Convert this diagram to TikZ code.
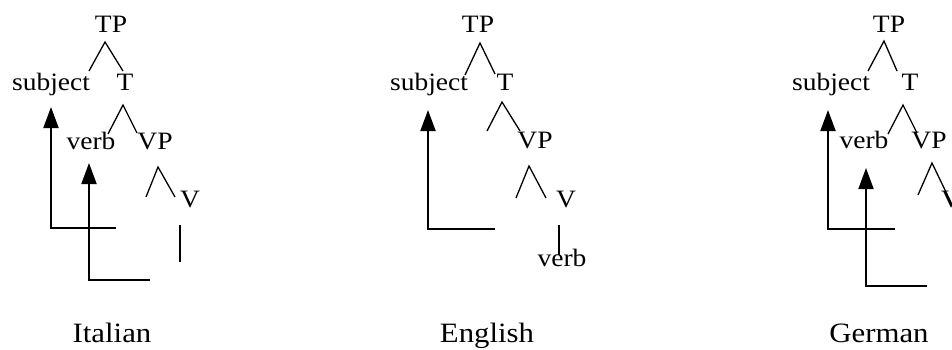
\documentclass[tikz,border=0pt]{standalone}
\usepackage{fontspec}
\setmainfont{Liberation Serif}
\newfontfamily\treefont[FakeStretch=1.1]{Liberation Serif}
\usetikzlibrary{arrows.meta}
\tikzset{
  cat/.style={inner sep=0pt, anchor=base, font=\treefont\fontsize{25}{25}\selectfont},
  lang/.style={inner sep=0pt, anchor=base, font=\treefont\fontsize{28}{28}\selectfont},
  branch/.style={line width=1.3pt},
  mv/.style={line width=2pt, -{Triangle[length=21pt,width=15pt]}},
  base/.style={line width=2pt},
}
\begin{document}
\begin{tikzpicture}[x=1pt,y=-1pt]
\useasboundingbox (0,0) rectangle (952,349);
\clip (0,0) rectangle (952,349);

% ---------------- Italian ----------------
\node[cat] (i-tp)   at (111,32)  {TP};
\node[cat] (i-subj) at (51,90)   {subject};
\node[cat] (i-t)    at (125,90)  {T};
\node[cat] (i-verb) at (91,149)  {verb};
\node[cat] (i-vp)   at (155,149) {VP};
\node[cat] (i-v)    at (190,207) {V};
\node[lang] (i-lab) at (112,342) {Italian};

\coordinate (i-tp-a) at (105,42);  \coordinate (i-tp-l) at (89,71);   \coordinate (i-tp-r) at (123,71);
\coordinate (i-t-a)  at (123,105); \coordinate (i-t-l)  at (108,134); \coordinate (i-t-r)  at (137,133);
\coordinate (i-vp-a) at (158,167); \coordinate (i-vp-l) at (146,197); \coordinate (i-vp-r) at (175,197);
\coordinate (i-s-t)  at (180,225); \coordinate (i-s-b)  at (180,262);
\draw[branch] (i-tp-l) -- (i-tp-a) -- (i-tp-r);
\draw[branch] (i-t-l) -- (i-t-a) -- (i-t-r);
\draw[branch] (i-vp-l) -- (i-vp-a) -- (i-vp-r);
\draw[branch] (i-s-t) -- (i-s-b);

\coordinate (i-a1) at (116,228);
\coordinate (i-a2) at (150,280);
\draw[mv] (i-a1) -| ([yshift=-17pt]i-subj.base);
\draw[mv] (i-a2) -| ([xshift=-2pt,yshift=-14pt]i-verb.base);

% ---------------- English ----------------
\node[cat] (e-tp)   at (478,32)  {TP};
\node[cat] (e-subj) at (429,90)  {subject};
\node[cat] (e-t)    at (505,90)  {T};
\node[cat] (e-vp)   at (535,148) {VP};
\node[cat] (e-v)    at (566,207) {V};
\node[cat] (e-verb) at (562,266) {verb};
\node[lang] (e-lab) at (487,342) {English};

\coordinate (e-tp-a) at (480,43);  \coordinate (e-tp-l) at (465,75);  \coordinate (e-tp-r) at (495,74);
\coordinate (e-t-a)  at (502,102); \coordinate (e-t-l)  at (487,131); \coordinate (e-t-r)  at (520,131);
\coordinate (e-vp-a) at (529,166); \coordinate (e-vp-l) at (516,198); \coordinate (e-vp-r) at (546,198);
\coordinate (e-s-t)  at (559,225); \coordinate (e-s-b)  at (559,255);
\draw[branch] (e-tp-l) -- (e-tp-a) -- (e-tp-r);
\draw[branch] (e-t-l) -- (e-t-a) -- (e-t-r);
\draw[branch] (e-vp-l) -- (e-vp-a) -- (e-vp-r);
\draw[branch] (e-s-t) -- (e-s-b);

\coordinate (e-a1) at (495,229);
\draw[mv] (e-a1) -| ([xshift=-1pt,yshift=-20pt]e-subj.base);

% ---------------- German ----------------
\node[cat] (g-tp)   at (889,32)  {TP};
\node[cat] (g-subj) at (831,90)  {subject};
\node[cat] (g-t)    at (910,90)  {T};
\node[cat] (g-verb) at (864,148) {verb};
\node[cat] (g-vp)   at (929,148) {VP};
\node[cat] (g-v)    at (951,207) {V};
\node[lang] (g-lab) at (879,342) {German};

\coordinate (g-tp-a) at (884,41);  \coordinate (g-tp-l) at (868,71);  \coordinate (g-tp-r) at (897,71);
\coordinate (g-t-a)  at (903,105); \coordinate (g-t-l)  at (888,134); \coordinate (g-t-r)  at (917,133);
\coordinate (g-vp-a) at (932,163); \coordinate (g-vp-l) at (918,195); \coordinate (g-vp-r) at (957,215);
\draw[branch] (g-tp-l) -- (g-tp-a) -- (g-tp-r);
\draw[branch] (g-t-l) -- (g-t-a) -- (g-t-r);
\draw[branch] (g-vp-l) -- (g-vp-a) -- (g-vp-r);

\coordinate (g-a1) at (895,229);
\coordinate (g-a2) at (927,286);
\draw[mv] (g-a1) -| ([xshift=-3pt,yshift=-20pt]g-subj.base);
\draw[mv] (g-a2) -| ([xshift=2pt,yshift=-20pt]g-verb.base);
\end{tikzpicture}
\end{document}
